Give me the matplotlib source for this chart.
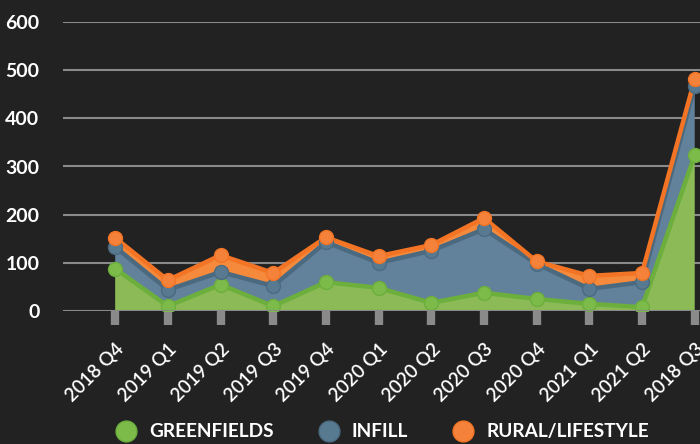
import matplotlib
matplotlib.use("Agg")
import matplotlib.pyplot as plt
from matplotlib.lines import Line2D
import numpy as np

categories = ["2018 Q4", "2019 Q1", "2019 Q2", "2019 Q3", "2019 Q4", "2020 Q1",
              "2020 Q2", "2020 Q3", "2020 Q4", "2021 Q1", "2021 Q2", "2018 Q3"]
greenfields = [88, 10, 55, 10, 60, 48, 17, 38, 25, 15, 8, 324]
infill = [45, 34, 26, 42, 83, 52, 108, 132, 73, 31, 52, 143]
rural = [19, 20, 35, 27, 10, 14, 12, 23, 5, 27, 19, 15]
series_names = ["GREENFIELDS", "INFILL", "RURAL/LIFESTYLE"]

bg = "#222222"
fill_cols = ["#8cba56", "#62819a", "#f58a3c"]
line_cols = ["#6caf3c", "#4b6a80", "#f27424"]
mark_cols = ["#7cbb4a", "#587a91", "#f5823a"]

plt.rcParams['font.family'] = ['Lato', 'DejaVu Sans']

fig = plt.figure(figsize=(7, 4.44), dpi=100, facecolor=bg)
ax = fig.add_axes([0.09, 0.2995, 0.91, 0.651])
ax.set_facecolor(bg)

x = np.arange(len(categories))
data = [np.array(greenfields), np.array(infill), np.array(rural)]
ax.stackplot(x, *data, colors=fill_cols, zorder=2)
cum = np.cumsum(data, axis=0)
for i in range(3):
    ax.plot(x, cum[i], color=line_cols[i], lw=3.2, zorder=3 + i, solid_joinstyle='round')
for i in range(3):
    ax.plot(x, cum[i], ls='none', marker='o', ms=10, mfc=mark_cols[i], mec=line_cols[i],
            mew=1, zorder=6 + i)

ax.set_xlim(-0.99, 11.1)
ax.set_ylim(0, 600)
ax.set_yticks(range(0, 700, 100))
for v in range(0, 700, 100):
    ax.axhline(v, color="#8a8a8a", lw=1.5, zorder=1 if v else 9)
for s in ax.spines.values():
    s.set_visible(False)
ax.tick_params(axis='y', length=0, pad=17, labelsize=14, labelcolor='white')
for t in ax.get_yticklabels():
    t.set_fontweight('bold')
ax.set_xticks(x)
ax.set_xticklabels(categories, rotation=45, ha='right', rotation_mode='anchor',
                   fontsize=13.5, color='white', fontweight='semibold')
ax.tick_params(axis='x', length=10, width=6, color="#8a8a8a", pad=11, direction='out')

handles = [Line2D([], [], ls='none', marker='o', ms=15, mfc=mark_cols[i], mec=line_cols[i], mew=1)
           for i in range(3)]
leg = fig.legend(handles, series_names, loc='lower center', bbox_to_anchor=(0.54, -0.03),
                 ncol=3, frameon=False, handletextpad=0.2, columnspacing=1.9,
                 prop={'size': 13.7, 'weight': 'bold'})
for t in leg.get_texts():
    t.set_color('white')

fig.savefig("out.png", dpi=100, facecolor=bg)
